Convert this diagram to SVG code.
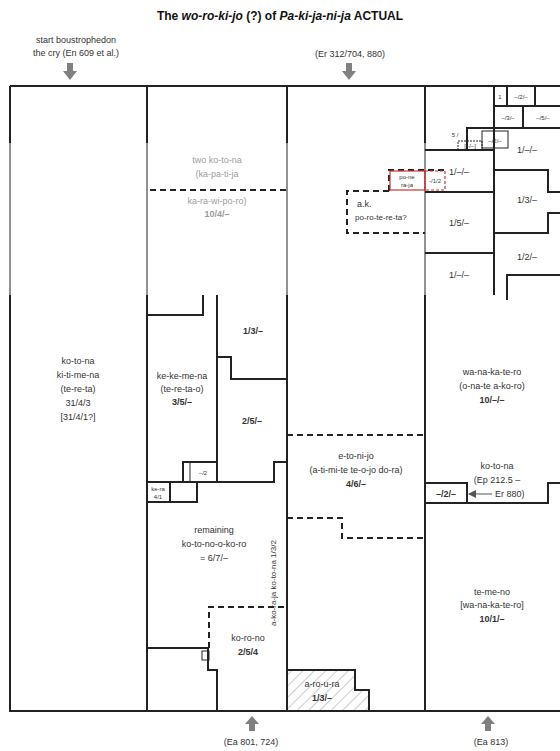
<svg xmlns="http://www.w3.org/2000/svg" width="560" height="751" viewBox="0 0 560 751">
<style>
.w{fill:none;stroke:#222;stroke-width:2}
.thin{fill:none;stroke:#222;stroke-width:1}
.d{fill:none;stroke:#222;stroke-width:2;stroke-dasharray:6 4}
.t{font-family:"Liberation Sans",Arial,sans-serif;font-size:9px;fill:#333;text-anchor:middle}
.s{font-size:6px}
.b{font-weight:bold}
.arr{fill:#808080}
</style>
<defs>
<pattern id="hatch" width="8" height="8" patternUnits="userSpaceOnUse" patternTransform="rotate(45)">
<rect width="8" height="8" fill="#fff"/>
<line x1="0" y1="0" x2="0" y2="8" stroke="#999" stroke-width="1"/>
</pattern>
<marker id="ah" markerWidth="8" markerHeight="8" refX="7" refY="4" orient="auto" markerUnits="userSpaceOnUse">
<path d="M0,0 L8,4 L0,8 Z" fill="#555"/>
</marker>
</defs>
<rect width="560" height="751" fill="#fff"/>
<text class="t b" x="280" y="20" style="font-size:12px;fill:#111">The <tspan font-style="italic">wo-ro-ki-jo</tspan> (?) of <tspan font-style="italic">Pa-ki-ja-ni-ja</tspan> ACTUAL</text>
<text class="t" x="76" y="43">start boustrophedon</text>
<text class="t" x="76" y="56">the cry (En 609 et al.)</text>
<text class="t" x="350" y="57">(Er 312/704, 880)</text>
<text class="t" x="251" y="745">(Ea 801, 724)</text>
<text class="t" x="491" y="745">(Ea 813)</text>
<g id="frame">
<path class="w" d="M10,86 H560 M10,86 V711 H560 M147,86 V711 M287,86 V711 M425,86 V711"/>
</g>
<g id="left-kotona">
<text class="t" x="78" y="364">ko-to-na</text>
<text class="t" x="78" y="378">ki-ti-me-na</text>
<text class="t" x="78" y="392">(te-re-ta)</text>
<text class="t" x="78" y="406">31/4/3</text>
<text class="t" x="78" y="420">[31/4/1?]</text>
</g>
<g id="karpathia">
<text class="t" x="217" y="163">two ko-to-na</text>
<text class="t" x="217" y="177">(ka-pa-ti-ja</text>
<text class="t" x="217" y="204">ka-ra-wi-po-ro)</text>
<text class="t b" x="217" y="217">10/4/–</text>
</g>
<rect x="0" y="143" width="508" height="152" fill="#fff" opacity="0.5"/>
<g id="karpathia-divider"><path class="d" d="M150,190 H287"/></g>
<g id="red-plot">
<path class="d" d="M389,191 V170 H445"/>
<rect x="390" y="171" width="35" height="19" fill="none" stroke="#c33" stroke-width="1.2"/>
<rect x="425" y="171" width="20" height="19" fill="none" stroke="#c33" stroke-width="1.2" stroke-dasharray="3 2"/>
<text class="t s" x="407" y="179">po-ne</text>
<text class="t s" x="407" y="187">ra-ja</text>
<text class="t s" x="435" y="183">-/1/2</text>
</g>
<g id="dashed-plot">
<path class="d" d="M389,191 H347 V233 H425"/>
<text class="t" x="357" y="207" text-anchor="start" style="text-anchor:start">a.k.</text>
<text class="t" x="355" y="220" style="text-anchor:start;font-size:8px">po-ro-te-re-ta?</text>
</g>
<g id="top-right-cluster">
<path class="w" d="M494,86 V295 M494,106 H560 M507,86 V106 M535,86 V106 M523,106 V128 M467,150 V128 H560 M425,150 H494 M425,192 H494 M425,253 H494 M494,170 H548 V192 H560 M560,213 H548 V233 H494 M507,300 V275 H560"/>
<rect class="thin" x="482" y="131" width="26" height="17"/>
<rect class="thin" x="458" y="141" width="24" height="9" stroke-dasharray="2 1"/>
<text class="t s" x="500" y="99">1</text>
<text class="t s" x="521" y="99">–/2/–</text>
<text class="t s" x="508" y="120">–/3/–</text>
<text class="t s" x="543" y="120">–/5/–</text>
<text class="t s" x="495" y="143">–/2/–</text>
<text class="t s" x="470" y="148">[–/–]</text>
<text class="t s" x="455" y="137">5 /</text>
<text class="t" x="459" y="175">1/–/–</text>
<text class="t" x="527" y="153">1/–/–</text>
<text class="t" x="527" y="203">1/3/–</text>
<text class="t" x="459" y="226">1/5/–</text>
<text class="t" x="527" y="260">1/2/–</text>
<text class="t" x="459" y="278">1/–/–</text>
</g>
<g id="plot-1-3">
<path class="w" d="M203,295 V315 H147 M217,295 V482 M217,357 H231 V379 H287"/>
<text class="t b" x="253" y="334">1/3/–</text>
</g>
<g id="plot-3-5">
<text class="t" x="182" y="379">ke-ke-me-na</text>
<text class="t" x="182" y="392">(te-re-ta-o)</text>
<text class="t b" x="182" y="405">3/5/–</text>
</g>
<g id="plot-2-5">
<path class="w" d="M287,462 H274 V482 H147 M183,482 V462 H217"/>
<path class="thin" d="M190,462 V482"/>
<text class="t b" x="252" y="424">2/5/–</text>
<text class="t s" x="203" y="475">–/2</text>
</g>
<g id="plot-kera">
<path class="w" d="M170,482 V502 M147,502 H197 V482"/>
<text class="t s" x="158" y="491">ke-ra</text>
<text class="t s" x="158" y="499">4/1</text>
</g>
<g id="remaining">
<path class="w" d="M147,648 H208 V670 H217 V711"/>
<rect class="thin" x="202" y="651" width="7" height="9"/>
<text class="t" x="214" y="533">remaining</text>
<text class="t" x="214" y="547">ko-to-no-o-ko-ro</text>
<text class="t" x="214" y="561">= 6/7/–</text>
<text class="t" x="276" y="583" transform="rotate(-90 276 583)" style="font-size:8px">a-ko-ra-ja ko-to-na 1/3/2</text>
</g>
<g id="plot-2-5-4">
<path class="d" d="M209,648 V607 H287"/>
<text class="t" x="248" y="641">ko-ro-no</text>
<text class="t b" x="248" y="655">2/5/4</text>
</g>
<g id="etonijo">
<path class="d" d="M287,435 H425 M287,518 H342 V538 H425"/>
<text class="t" x="356" y="459">e-to-ni-jo</text>
<text class="t" x="356" y="473">(a-ti-mi-te te-o-jo do-ra)</text>
<text class="t b" x="356" y="487">4/6/–</text>
</g>
<g id="aroura">
<path d="M287,670 H355 V690 H369 V711 H287 Z" fill="url(#hatch)" stroke="#222" stroke-width="2"/>
<text class="t" x="322" y="687">a-ro-u-ra</text>
<text class="t b" x="322" y="701">1/3/–</text>
</g>
<g id="wanakatero">
<text class="t" x="492" y="375">wa-na-ka-te-ro</text>
<text class="t" x="492" y="389">(o-na-te a-ko-ro)</text>
<text class="t b" x="492" y="403">10/–/–</text>
</g>
<g id="kotona-ep">
<path class="w" d="M425,483 H467 V503 M425,503 H548 V483 H560"/>
<text class="t b" x="446" y="497">–/2/–</text>
<text class="t" x="497" y="469">ko-to-na</text>
<text class="t" x="497" y="483">(Ep 212.5 –</text>
<text class="t" x="495" y="497" style="text-anchor:start">Er 880)</text>
</g>
<g id="temeno">
<text class="t" x="492" y="595">te-me-no</text>
<text class="t" x="492" y="608">[wa-na-ka-te-ro]</text>
<text class="t b" x="492" y="622">10/1/–</text>
</g>
<g id="connectors">
<path class="arr" d="M67,63 H73 V71 H77 L70,80 L63,71 H67 Z"/>
<path class="arr" d="M346,63 H352 V71 H356 L349,80 L342,71 H346 Z"/>
<path class="arr" d="M252,716 L259,724 H255 V731 H249 V724 H245 Z"/>
<path class="arr" d="M488,716 L495,724 H491 V731 H485 V724 H481 Z"/>
<line x1="492" y1="494" x2="469" y2="494" stroke="#555" stroke-width="1" marker-end="url(#ah)"/>
</g>
</svg>
